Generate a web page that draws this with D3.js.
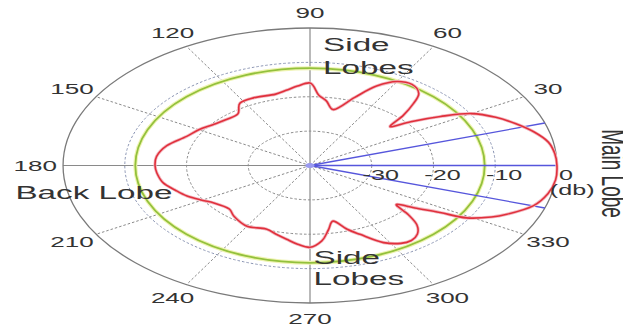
<!DOCTYPE html>
<html>
    <head>
        <style>
            body {
                margin: 0;
                padding: 0;
                background: #fff;
            }
            svg text {
                font-family: "Liberation Sans", Arial, sans-serif;
                fill: #333;
            }
        </style>
    </head>
    <body>
        <script src="https://d3js.org/d3.v7.min.js"></script>
        <script>
            // pattern, angle in degrees (ccw from the right) and gain in dB
            const angles = [0, 5, 10, 15, 20, 25, 30, 34, 38, 41, 44, 47, 50, 55, 60, 65, 70, 77, 82, 86,
                90, 95, 100, 105, 115, 122, 128, 135, 143, 150, 157, 166, 174, 180, 185, 192, 198, 204,
                210, 215, 224, 230, 240, 249, 255, 260, 265, 270, 275, 279, 283, 288, 292, 298, 303,
                307, 311, 315, 318, 321, 324, 327, 329, 333, 336, 342, 348, 354];
            const gainDb = [0, -0.2, -0.8, -2.4, -4.5, -6.8, -9.8, -14.5, -19.3, -22.8, -19, -15.5, -12.6,
                -11.2, -11.8, -14.5, -19, -23.3, -21, -19.5, -16, -16.8, -17.8, -18.5, -18.3, -18.6, -21,
                -21, -20.3, -19.2, -18.3, -16.1, -15, -14.9, -15.1, -15.7, -17, -18.2, -19.8, -21, -21.8,
                -20.8, -19.6, -20.2, -19.2, -18.2, -17, -16.2, -18, -21, -23.4, -20.5, -18.4, -14.6, -13,
                -12.7, -13.5, -15.5, -18.5, -22, -19, -14.9, -10.4, -7, -5.1, -2, -0.6, 0];

            const angleTicks = [30, 60, 90, 120, 150, 180, 210, 240, 270, 300, 330];
            const spokeAngles = [30, 60, 120, 150, 210, 240, 300, 330];
            const axisAngles = [0, 90, 180, 270];
            const ringDb = [-30, -20, -10];
            const dbTicks = [-30, -20, -10, 0];
            const beamAngles = [0, 18, -18];
            const levelDb = -11.7;

            const W = 623, H = 327;
            const cx = 310, cy = 165.5, R = 137.5, sx = 1.796;

            const svg = d3.select("body")
            .append("svg")
            .attr("width", W)
            .attr("height", H);

            // the picture is stretched sideways, so draw a circle and stretch the group
            const g = svg.append("g")
            .attr("transform", `translate(${cx},${cy}) scale(${sx},1)`);

            const r = d3.scaleLinear().domain([-40, 0]).range([0, R]);
            const rad = (a) => a * Math.PI / 180;
            const px = (a, rr) => rr * Math.cos(rad(a));
            const py = (a, rr) => -rr * Math.sin(rad(a));

            // rings
            g.selectAll(".ring")
            .data(ringDb)
            .enter()
            .append("circle")
            .attr("class", "ring")
            .attr("r", (d) => r(d))
            .attr("fill", "none")
            .attr("stroke", (d) => d == -10 ? "#8c96b4" : "#8a8a8a")
            .attr("stroke-width", 1)
            .attr("stroke-dasharray", "2.5,2")
            .attr("vector-effect", "non-scaling-stroke");

            // spokes
            g.selectAll(".spoke")
            .data(spokeAngles)
            .enter()
            .append("line")
            .attr("class", "spoke")
            .attr("x1", 0).attr("y1", 0)
            .attr("x2", (d) => px(d, r(0)))
            .attr("y2", (d) => py(d, r(0)))
            .attr("stroke", "#8a8a8a")
            .attr("stroke-width", 1)
            .attr("stroke-dasharray", "2.5,2")
            .attr("vector-effect", "non-scaling-stroke");

            g.selectAll(".axis")
            .data(axisAngles)
            .enter()
            .append("line")
            .attr("class", "axis")
            .attr("x1", 0).attr("y1", 0)
            .attr("x2", (d) => px(d, r(0)))
            .attr("y2", (d) => py(d, r(0)))
            .attr("stroke", "#8a8a8a")
            .attr("stroke-width", 1.2)
            .attr("vector-effect", "non-scaling-stroke");

            // outer circle
            g.append("circle")
            .attr("r", r(0))
            .attr("fill", "none")
            .attr("stroke", "#7a7a7a")
            .attr("stroke-width", 1.3)
            .attr("vector-effect", "non-scaling-stroke");

            // level circle
            g.append("circle")
            .attr("r", r(levelDb))
            .attr("fill", "none")
            .attr("stroke", "#eef3b0")
            .attr("stroke-width", 4)
            .attr("vector-effect", "non-scaling-stroke");
            g.append("circle")
            .attr("r", r(levelDb))
            .attr("fill", "none")
            .attr("stroke", "#93c13c")
            .attr("stroke-width", 1.8)
            .attr("vector-effect", "non-scaling-stroke");

            // beam lines
            g.selectAll(".beam")
            .data(beamAngles)
            .enter()
            .append("line")
            .attr("class", "beam")
            .attr("x1", 0).attr("y1", 0)
            .attr("x2", (d) => px(d, r(0)))
            .attr("y2", (d) => py(d, r(0)))
            .attr("stroke", "#5656dc")
            .attr("stroke-width", 1.3)
            .attr("vector-effect", "non-scaling-stroke");

            g.append("circle")
            .attr("r", 2.5)
            .attr("fill", "#9a9af0");

            // pattern
            const pattern = angles.map((a, i) => ({a: a, db: gainDb[i]}));
            const line = d3.lineRadial()
            .angle((d) => Math.PI / 2 - rad(d.a))
            .radius((d) => r(d.db))
            .curve(d3.curveCatmullRomClosed.alpha(0.5));

            g.append("path")
            .datum(pattern)
            .attr("d", line)
            .attr("fill", "none")
            .attr("stroke", "#f3b8c0")
            .attr("stroke-width", 3.2)
            .attr("vector-effect", "non-scaling-stroke");
            g.append("path")
            .datum(pattern)
            .attr("d", line)
            .attr("fill", "none")
            .attr("stroke", "#e0303c")
            .attr("stroke-width", 1.6)
            .attr("vector-effect", "non-scaling-stroke");

            // angle labels
            g.selectAll(".alabel")
            .data(angleTicks)
            .enter()
            .append("text")
            .attr("class", "alabel")
            .attr("x", (d) => px(d, 153))
            .attr("y", (d) => py(d, 153))
            .attr("text-anchor", "middle")
            .attr("dominant-baseline", "central")
            .style("font-size", "14.5px")
            .text((d) => d);

            // dB labels
            g.selectAll(".dblabel")
            .data(dbTicks)
            .enter()
            .append("text")
            .attr("class", "dblabel")
            .attr("x", (d) => r(d) + 5)
            .attr("y", 10)
            .attr("text-anchor", "middle")
            .attr("dominant-baseline", "central")
            .style("font-size", "14px")
            .text((d) => d);

            g.append("text")
            .attr("x", r(0) + 8.5)
            .attr("y", 24.5)
            .attr("text-anchor", "middle")
            .attr("dominant-baseline", "central")
            .style("font-size", "14px")
            .text("(db)");

            // annotations
            const big = (x, y, t) => g.append("text")
            .attr("x", x)
            .attr("y", y)
            .attr("dominant-baseline", "central")
            .style("font-size", "18.5px")
            .text(t);

            big(7.3, -120.5, "Side");
            big(7.3, -97.5, "Lobes");
            big(-164, 27.5, "Back Lobe");
            big(2, 92, "Side");
            big(2, 113, "Lobes");

            g.append("text")
            .attr("transform", `translate(169,8) rotate(90)`)
            .attr("text-anchor", "middle")
            .attr("dominant-baseline", "central")
            .style("font-size", "19px")
            .text("Main Lobe");
        </script>
    </body>
</html>
